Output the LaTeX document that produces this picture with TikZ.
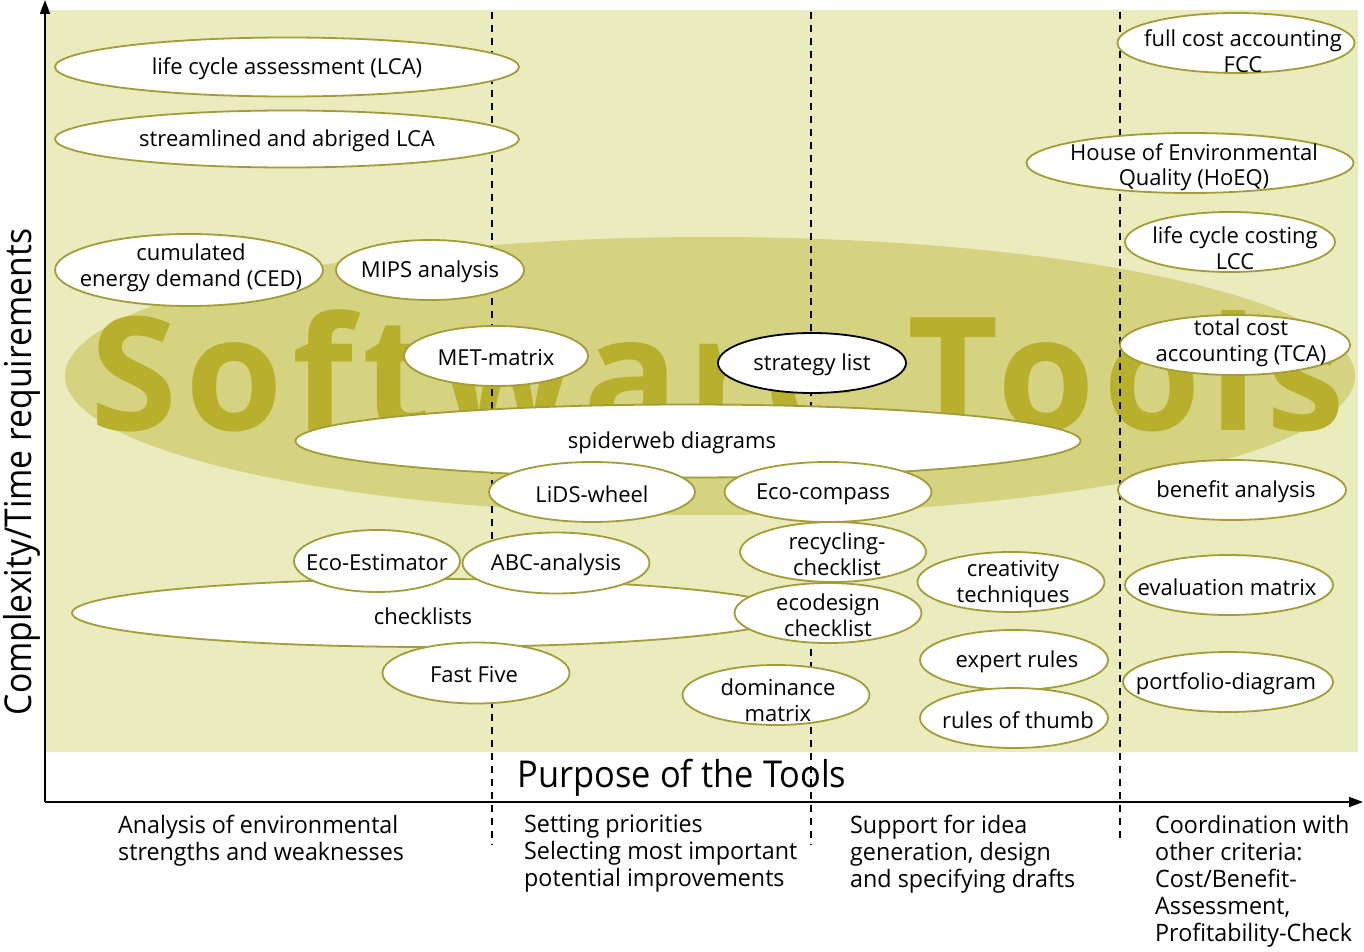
\documentclass[tikz,border=0pt]{standalone}
\usepackage{fontspec}
\setmainfont{Open Sans}
\newfontfamily\toolfont{Open Sans}
\newfontfamily\condfont{Open Sans}[FakeStretch=0.97]
\newfontfamily\xfont{Open Sans}[FakeStretch=0.93]
\newfontfamily\yfont{Open Sans}[FakeStretch=0.91]
\newfontfamily\swfont{Open Sans}[LetterSpace=5.5]
\usetikzlibrary{shapes.geometric,arrows.meta}
\definecolor{bgcol}{RGB}{234,236,190}
\definecolor{bandcol}{RGB}{213,210,128}
\definecolor{swcol}{RGB}{184,176,44}
\definecolor{bord}{RGB}{164,156,56}
\tikzset{
  tool/.style 2 args={ellipse, draw=bord, fill=white, line width=1.8pt, inner sep=0pt,
    minimum width=#1, minimum height=#2},
  tooltxt/.style={inner sep=0pt, align=center, yshift=-2pt, font=\toolfont\fontsize{22}{25.5}\selectfont},
  divider/.style={line width=2.2pt, dash pattern=on 7pt off 6pt},
  axis/.style={line width=1.6pt, -{Triangle[length=14pt,width=10pt]}},
  bottomtxt/.style={anchor=north west, inner sep=0pt, align=left, font=\condfont\fontsize{24}{27}\selectfont}
}
\begin{document}
\begin{tikzpicture}[x=1pt,y=-1pt]
\useasboundingbox (0,0) rectangle (1364,952);
% background
\fill[bgcol] (45,10) rectangle (1358,752);
\fill[bandcol] (710,376) ellipse [x radius=645, y radius=139];
\node[anchor=base west, inner sep=0pt, text=swcol, font=\swfont\bfseries\fontsize{158}{160}\selectfont] (sw) at (90,430) {Software Tools};
% dividers
\coordinate (d1t) at (492,12); \coordinate (d1b) at (492,845);
\coordinate (d2t) at (811,12); \coordinate (d2b) at (811,845);
\coordinate (d3t) at (1120,12); \coordinate (d3b) at (1120,840);
\draw[divider] (d1t) -- (d1b);
\draw[divider] (d2t) -- (d2b);
\draw[divider] (d3t) -- (d3b);
% axes
\coordinate (o) at (45,802);
\coordinate (ytop) at (45,0);
\coordinate (xend) at (1363,802);
\draw[axis] (o) -- (ytop);
\draw[axis] (o) -- (xend);
\node[rotate=90, inner sep=0pt, font=\yfont\fontsize{37}{40}\selectfont] (ylab) at (22,472) {Complexity/Time requirements};
\node[inner sep=0pt, font=\xfont\fontsize{37}{40}\selectfont] (xlab) at (682,778) {Purpose of the Tools};
% tools
\node[tool={464}{59}] (lca) at (287,67) {};
\node[tooltxt] (lca-t) at (lca) {life cycle assessment (LCA)};
\node[tool={464}{57}] (slca) at (287,139) {};
\node[tooltxt] (slca-t) at (slca) {streamlined and abriged LCA};
\node[tool={268}{72}] (ced) at (189,270) {};
\node[tooltxt] (ced-t) at (191,266) {cumulated\\energy demand (CED)};
\node[tool={188}{60}] (mips) at (430,270) {};
\node[tooltxt] (mips-t) at (mips) {MIPS analysis};
\node[tool={184}{60}] (met) at (496,356) {};
\node[tooltxt] (met-t) at (met) {MET-matrix};
\node[tool={188}{60}, draw=black] (strat) at (812,363) {};
\node[tooltxt] (strat-t) at (strat) {strategy list};
\node[tool={785}{73}] (spider) at (688,441) {};
\node[tooltxt] (spider-t) at (672,441) {spiderweb diagrams};
\node[tool={206}{60}] (lids) at (592,492) {};
\node[tooltxt] (lids-t) at (lids) {LiDS-wheel};
\node[tool={207}{60}] (comp) at (828,492) {};
\node[tooltxt] (comp-t) at (823,492) {Eco-compass};
\node[tool={720}{68}] (check) at (432,613) {};
\node[tooltxt] (check-t) at (423,614) {checklists};
\node[tool={166}{62}] (est) at (377,561) {};
\node[tooltxt] (est-t) at (est) {Eco-Estimator};
\node[tool={187}{61}] (abc) at (556,563) {};
\node[tooltxt] (abc-t) at (abc) {ABC-analysis};
\node[tool={186}{60}] (recy) at (833,552) {};
\node[tooltxt] (recy-t) at (837,552) {recycling-\\checklist};
\node[tool={187}{60}] (eco) at (828,613) {};
\node[tooltxt] (eco-t) at (828,613) {ecodesign\\checklist};
\node[tool={187}{60}] (crea) at (1011,582) {};
\node[tooltxt] (crea-t) at (1013,582) {creativity\\techniques};
\node[tool={187}{61}] (fast) at (476,673) {};
\node[tooltxt] (fast-t) at (474,673) {Fast Five};
\node[tool={187}{60}] (dom) at (776,695) {};
\node[tooltxt] (dom-t) at (778,698) {dominance\\matrix};
\node[tool={188}{60}] (exp) at (1014,660) {};
\node[tooltxt] (exp-t) at (1017,660) {expert rules};
\node[tool={188}{60}] (thumb) at (1014,718) {};
\node[tooltxt] (thumb-t) at (1018,718) {rules of thumb};
\node[tool={237}{60}] (fcc) at (1236,43) {};
\node[tooltxt] (fcc-t) at (1243,49) {full cost accounting\\FCC};
\node[tool={327}{60}] (hoeq) at (1190,163) {};
\node[tooltxt] (hoeq-t) at (1194,165) {House of Environmental\\Quality (HoEQ)};
\node[tool={210}{60}] (lcc) at (1230,242) {};
\node[tooltxt] (lcc-t) at (1235,246) {life cycle costing\\LCC};
\node[tool={230}{60}] (tca) at (1235,345) {};
\node[tooltxt] (tca-t) at (1241,341) {total cost\\accounting (TCA)};
\node[tool={228}{60}] (ben) at (1232,490) {};
\node[tooltxt] (ben-t) at (1236,490) {benefit analysis};
\node[tool={208}{60}] (eval) at (1229,585) {};
\node[tooltxt] (eval-t) at (1227,585) {evaluation matrix};
\node[tool={210}{60}] (port) at (1228,682) {};
\node[tooltxt] (port-t) at (1226,682) {portfolio-diagram};
% bottom labels
\node[bottomtxt] (p1) at (118,815) {Analysis of environmental\\strengths and weaknesses};
\node[bottomtxt] (p2) at (524,815) {Setting priorities\\Selecting most important\\potential improvements};
\node[bottomtxt] (p3) at (850,815) {Support for idea\\generation, design\\and specifying drafts};
\node[bottomtxt] (p4) at (1155,815) {Coordination with\\other criteria:\\Cost/Benefit-\\Assessment,\\Profitability-Check};
\end{tikzpicture}
\end{document}
